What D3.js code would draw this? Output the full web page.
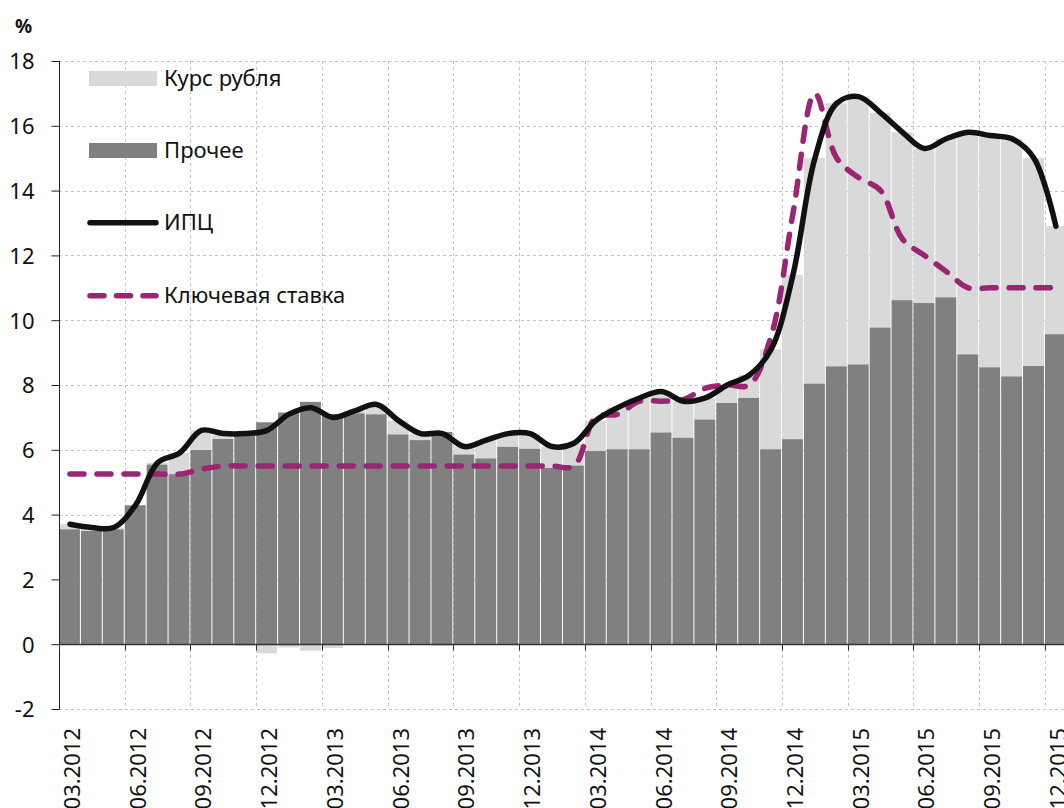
<!DOCTYPE html>
<html>
<head>
<meta charset="utf-8">
<script src="https://cdn.jsdelivr.net/npm/d3@7"></script>
<style>
  body { margin: 0; background: #fff; }
  svg { display: block; font-family: 'Noto Sans', sans-serif; }
</style>
</head>
<body>
<script>
// months (category axis)
const months = [
  '03.2012', '04.2012', '05.2012', '06.2012', '07.2012', '08.2012', '09.2012', '10.2012', '11.2012', '12.2012',
  '01.2013', '02.2013', '03.2013', '04.2013', '05.2013', '06.2013', '07.2013', '08.2013', '09.2013', '10.2013', '11.2013', '12.2013',
  '01.2014', '02.2014', '03.2014', '04.2014', '05.2014', '06.2014', '07.2014', '08.2014', '09.2014', '10.2014', '11.2014', '12.2014',
  '01.2015', '02.2015', '03.2015', '04.2015', '05.2015', '06.2015', '07.2015', '08.2015', '09.2015', '10.2015', '11.2015', '12.2015'
]

// Прочее
const other = [
  3.55, 3.5, 3.55, 4.29, 5.55, 5.25, 6.0, 6.34, 6.55, 6.85,
  7.15, 7.48, 7.1, 7.13, 7.1, 6.48, 6.3, 6.55, 5.86, 5.74, 6.1, 6.04,
  5.45, 5.52, 5.97, 6.02, 6.02, 6.54, 6.38, 6.94, 7.45, 7.61, 6.02, 6.33,
  8.05, 8.58, 8.64, 9.78, 10.62, 10.53, 10.71, 8.95, 8.55, 8.27, 8.59, 9.57
]

// Курс рубля
const ruble = [
  0.15, 0.1, 0.05, 0.01, 0.05, 0.65, 0.6, 0.16, -0.05, -0.28,
  -0.1, -0.2, -0.12, 0.07, 0.3, 0.42, 0.2, -0.05, 0.24, 0.56, 0.4, 0.46,
  0.65, 0.68, 0.93, 1.28, 1.58, 1.26, 1.12, 0.66, 0.55, 0.69, 3.08, 5.07,
  6.95, 8.12, 8.26, 6.62, 5.18, 4.77, 4.89, 6.85, 7.15, 7.33, 6.41, 3.33
]

// ИПЦ
const cpi = [
  3.7, 3.6, 3.6, 4.3, 5.6, 5.9, 6.6, 6.5, 6.5, 6.6,
  7.1, 7.3, 7.0, 7.2, 7.4, 6.9, 6.5, 6.5, 6.1, 6.3, 6.5, 6.5,
  6.1, 6.2, 6.9, 7.3, 7.6, 7.8, 7.5, 7.6, 8.0, 8.3, 9.1, 11.4,
  15.0, 16.7, 16.9, 16.4, 15.8, 15.3, 15.6, 15.8, 15.7, 15.6, 15.0, 12.9
]

// Ключевая ставка
const keyRate = [
  5.25, 5.25, 5.25, 5.25, 5.25, 5.25, 5.4, 5.5, 5.5, 5.5,
  5.5, 5.5, 5.5, 5.5, 5.5, 5.5, 5.5, 5.5, 5.5, 5.5, 5.5, 5.5,
  5.5, 5.5, 7.0, 7.1, 7.5, 7.5, 7.55, 7.9, 8.0, 8.0, 9.5, 13.3,
  17.0, 15.0, 14.4, 14.0, 12.5, 12.0, 11.5, 11.0, 11.0, 11.0, 11.0, 11.0
]

const yTicks = [-2, 0, 2, 4, 6, 8, 10, 12, 14, 16, 18]
const labelMonths = months.filter((m, i) => i % 3 === 0)

const width = 1064
const height = 808
const left = 59
const step = 21.91

const colors = { ruble: '#d9d9d9', other: '#808080', cpi: '#111111', key: '#9b2473', grid: '#c4c4c4' }

const svg = d3.select('body')
  .append('svg')
  .attr('width', width)
  .attr('height', height)

const x = d3.scaleBand()
  .domain(months)
  .range([left, left + step * months.length])
  .paddingInner(0)

const y = d3.scaleLinear()
  .domain([-2, 18])
  .range([709, 61])

// grid
const grid = svg.append('g').attr('class', 'grid')
  .attr('stroke', colors.grid)
  .attr('stroke-dasharray', '3,3')

grid.selectAll('line.h')
  .data(yTicks.filter(t => t !== 0))
  .enter()
  .append('line')
  .attr('class', 'h')
  .attr('x1', left)
  .attr('x2', width)
  .attr('y1', d => Math.round(y(d)) + 0.5)
  .attr('y2', d => Math.round(y(d)) + 0.5)

grid.selectAll('line.v')
  .data(labelMonths.slice(1))
  .enter()
  .append('line')
  .attr('class', 'v')
  .attr('x1', d => Math.round(x(d)) + 0.5)
  .attr('x2', d => Math.round(x(d)) + 0.5)
  .attr('y1', y(18))
  .attr('y2', y(-2))

// stacked bars
const table = months.map((m, i) => ({ month: m, other: other[i], ruble: ruble[i] }))
const series = d3.stack()
  .keys(['other', 'ruble'])
  .offset(d3.stackOffsetDiverging)(table)

svg.append('g')
  .selectAll('g')
  .data(series)
  .enter()
  .append('g')
  .attr('fill', d => colors[d.key])
  .selectAll('rect')
  .data(d => d)
  .enter()
  .append('rect')
  .attr('x', d => x(d.data.month))
  .attr('width', x.bandwidth() - 1)
  .attr('y', d => y(Math.max(d[0], d[1])))
  .attr('height', d => Math.abs(y(d[0]) - y(d[1])))

// axes
const yAxis = svg.append('g')
  .attr('transform', `translate(${left + 0.5},0)`)
  .call(d3.axisLeft(y).tickValues(yTicks).tickSize(8).tickPadding(17).tickFormat(d => String(d)))
yAxis.select('.domain').attr('stroke', '#222').attr('d', `M0,${y(18)}V${y(-2)}`)
yAxis.selectAll('.tick line').attr('stroke', '#222')
yAxis.selectAll('.tick text')
  .attr('font-size', 22)
  .attr('font-family', "'Noto Sans', sans-serif")
  .attr('fill', '#111')
  .attr('dy', '0.36em')

const y0 = Math.round(y(0)) + 0.5
const xAxis = svg.append('g')
xAxis.append('line')
  .attr('x1', left)
  .attr('x2', width)
  .attr('y1', y0)
  .attr('y2', y0)
  .attr('stroke', '#333')
  .attr('stroke-width', 1.5)

xAxis.selectAll('line.tick')
  .data(labelMonths)
  .enter()
  .append('line')
  .attr('class', 'tick')
  .attr('x1', d => Math.round(x(d)) + 0.5)
  .attr('x2', d => Math.round(x(d)) + 0.5)
  .attr('y1', y0)
  .attr('y2', y0 + 6)
  .attr('stroke', '#333')

xAxis.selectAll('text')
  .data(labelMonths)
  .enter()
  .append('text')
  .attr('transform', d => `translate(${x(d) + x.bandwidth() / 2 + 10},728) rotate(-90)`)
  .attr('text-anchor', 'end')
  .attr('font-size', 22)
  .attr('fill', '#111')
  .text(d => d)

// lines
const line = values => d3.line()
  .x((d, i) => x(months[i]) + x.bandwidth() / 2)
  .y(d => y(d))
  .curve(d3.curveCatmullRom.alpha(0.5))(values)

svg.append('path')
  .attr('d', line(keyRate))
  .attr('fill', 'none')
  .attr('stroke', colors.key)
  .attr('stroke-width', 5.5)
  .attr('stroke-linecap', 'round')
  .attr('stroke-dasharray', '14,13')

svg.append('path')
  .attr('d', line(cpi))
  .attr('fill', 'none')
  .attr('stroke', colors.cpi)
  .attr('stroke-width', 5.5)
  .attr('stroke-linecap', 'round')
  .attr('stroke-linejoin', 'round')

// legend
const legend = svg.append('g')
const legendItems = [
  { name: 'Курс рубля', type: 'rect', color: colors.ruble, cy: 78.5 },
  { name: 'Прочее', type: 'rect', color: colors.other, cy: 150.5 },
  { name: 'ИПЦ', type: 'line', color: colors.cpi, cy: 222.7 },
  { name: 'Ключевая ставка', type: 'dash', color: colors.key, cy: 295.7 }
]

legendItems.forEach(item => {
  if (item.type === 'rect') {
    legend.append('rect')
      .attr('x', 89)
      .attr('y', item.cy - 7.5)
      .attr('width', 68)
      .attr('height', 15)
      .attr('fill', item.color)
  } else {
    legend.append('line')
      .attr('x1', 90)
      .attr('x2', 156)
      .attr('y1', item.cy)
      .attr('y2', item.cy)
      .attr('stroke', item.color)
      .attr('stroke-width', 5.5)
      .attr('stroke-linecap', 'round')
      .attr('stroke-dasharray', item.type === 'dash' ? '14,12.5' : null)
  }
  legend.append('text')
    .attr('x', 164)
    .attr('y', item.cy + 7.6)
    .attr('font-size', 22)
    .attr('fill', '#111')
    .text(item.name)
})

svg.append('text')
  .attr('x', 15)
  .attr('y', 33)
  .attr('font-size', 19)
  .attr('font-weight', 'bold')
  .attr('fill', '#111')
  .text('%')
</script>
</body>
</html>
